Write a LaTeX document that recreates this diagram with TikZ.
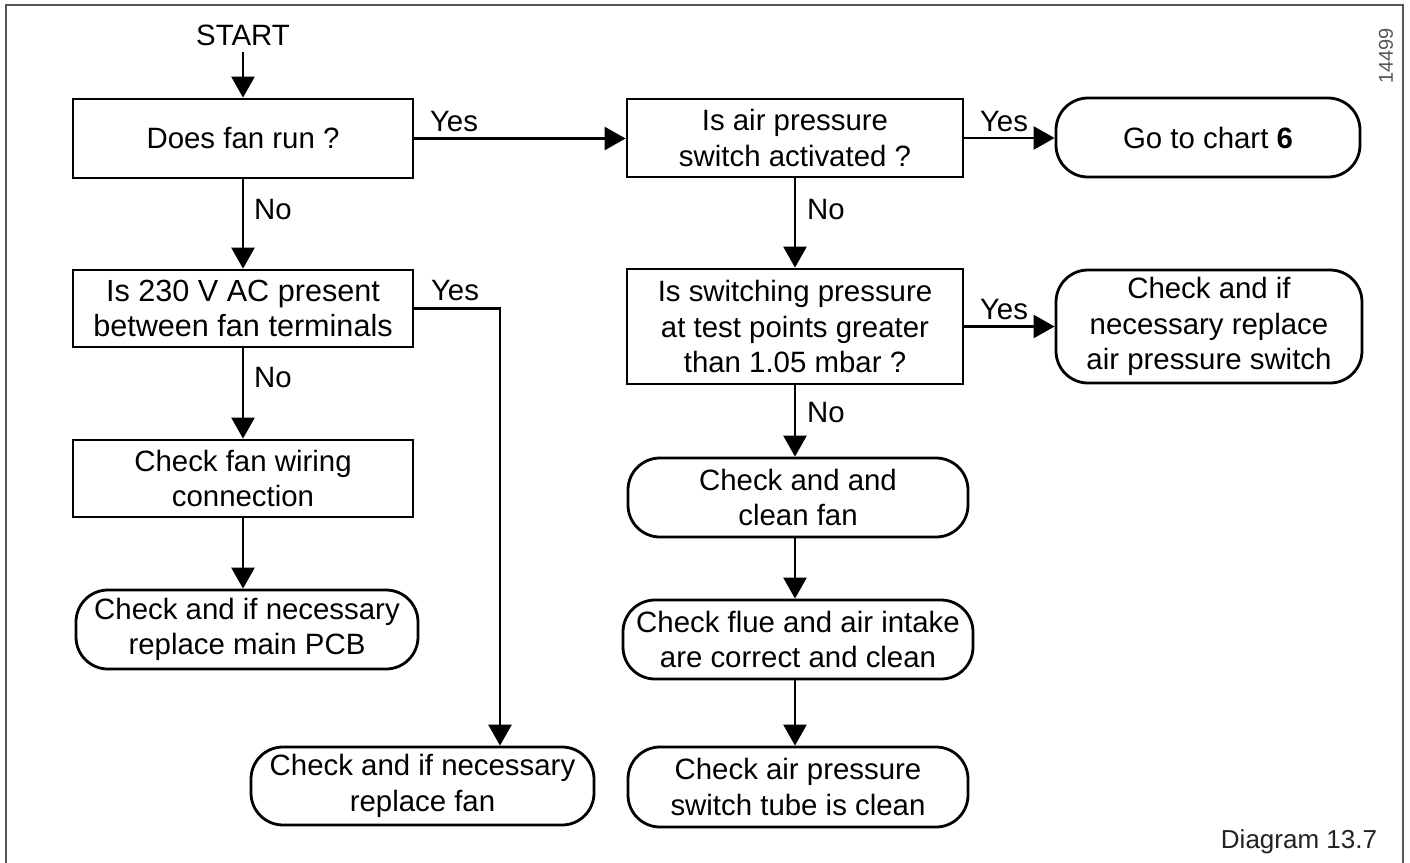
\documentclass[tikz,border=0pt]{standalone}
\usepackage{fontspec}
\setmainfont{Liberation Sans}
\usetikzlibrary{arrows.meta}
\definecolor{framec}{HTML}{555555}
\definecolor{txtc}{HTML}{222222}
\begin{document}
\begin{tikzpicture}[x=0.5pt,y=-0.5pt,
  every node/.style={font=\fontsize{14.7}{17.75}\selectfont, inner sep=0pt},
  box/.style={draw, line width=1.4pt, align=center},
  rbox/.style={box, rounded corners=16pt},
  lbl/.style={},
  arr/.style={line width=1.3pt, -{Triangle[length=10.5pt,width=11.5pt]}},
  ln/.style={line width=1.3pt}]
\useasboundingbox (0,0) rectangle (1410,863);
\fill[white] (0,0) rectangle (1410,863);
\draw[framec, line width=0.8pt] (6,863) -- (6,5) -- (1403,5) -- (1403,863);
\node[framec, font=\fontsize{10}{12}\selectfont, rotate=90] (num) at (1386,56) {14499};
\node[txtc, font=\fontsize{13}{15}\selectfont] (cap) at (1299,842) {Diagram 13.7};

% left column
\node (start) at (243,35) {START};
\node[box, minimum width=170pt, minimum height=39.5pt] (b1) at (243,138.5) {Does fan run ?};
\node[box, minimum width=170pt, minimum height=38.5pt, font=\fontsize{15.3}{17.75}\selectfont] (b2) at (243,308.5) {Is 230 V AC present\\between fan terminals};
\node[box, minimum width=170pt, minimum height=38.5pt] (b3) at (243,478.5) {Check fan wiring\\connection};
\node[rbox, minimum width=171pt, minimum height=39.5pt] (b4) at (247,629.5) {Check and if necessary\\replace main PCB};
\node[rbox, minimum width=171.5pt, minimum height=39pt] (b5) at (422.5,786) {Check and if necessary\\replace fan};

% right column
\node[box, minimum width=168pt, minimum height=39pt] (r1) at (795,138) {Is air pressure\\switch activated ?};
\node[rbox, minimum width=152pt, minimum height=39.5pt] (r2) at (1208,137.5) {Go to chart \textbf{6}};
\node[box, minimum width=168pt, minimum height=57.5pt] (r3) at (795,326.5) {Is switching pressure\\at test points greater\\than 1.05 mbar ?};
\node[rbox, minimum width=153pt, minimum height=56.5pt] (r4) at (1209,326.5) {Check and if\\necessary replace\\air pressure switch};
\node[rbox, minimum width=170pt, minimum height=39.5pt] (r5) at (798,497.5) {Check and and\\clean fan};
\node[rbox, minimum width=175pt, minimum height=39.5pt] (r6) at (798,639.5) {Check flue and air intake\\are correct and clean};
\node[rbox, minimum width=170pt, minimum height=40pt] (r7) at (798,787) {Check air pressure\\switch tube is clean};

% connectors
\coordinate (s0) at (243,52);
\draw[arr] (s0) -- (b1.north);
\draw[arr] (b1.south) -- (b2.north);
\draw[arr] (b2.south) -- (b3.north);
\draw[arr] (b3.south) -- (b3.south |- b4.north);
\coordinate (yb) at (500,308.5);
\draw[arr] (b2.east) -- (yb) -- (yb |- b5.north);
\draw[arr] (b1.east) -- (b1.east -| r1.west);
\draw[arr] (r1.east) -- (r1.east -| r2.west);
\draw[arr] (r1.south) -- (r3.north);
\draw[arr] (r3.east) -- (r3.east -| r4.west);
\draw[arr] (r3.south) -- (r3.south |- r5.north);
\draw[arr] (r3.south |- r5.south) -- (r3.south |- r6.north);
\draw[arr] (r3.south |- r6.south) -- (r3.south |- r7.north);

% labels
\node[lbl] (y1) at (454,122) {Yes};
\node[lbl] (y2) at (1004,122) {Yes};
\node[lbl] (y3) at (455,291) {Yes};
\node[lbl] (y4) at (1004,310) {Yes};
\node[lbl] (n1) at (273,210) {No};
\node[lbl] (n2) at (273,378) {No};
\node[lbl] (n3) at (826,210) {No};
\node[lbl] (n4) at (826,413) {No};
\end{tikzpicture}
\end{document}
